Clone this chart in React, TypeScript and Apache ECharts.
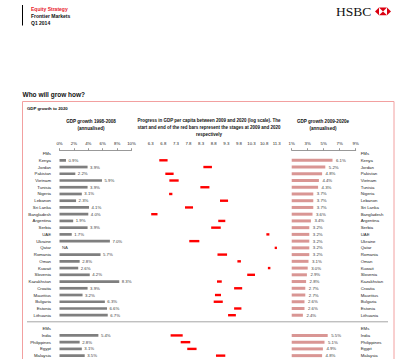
import React, { useEffect, useRef } from "react";
import * as echarts from "echarts";

// ---- Data ----
const fmCountries = [
  "Kenya", "Jordan", "Pakistan", "Vietnam", "Tunisia", "Nigeria", "Lebanon", "Sri Lanka",
  "Bangladesh", "Argentina", "Serbia", "UAE", "Ukraine", "Qatar", "Romania", "Oman",
  "Kuwait", "Slovenia", "Kazakhstan", "Croatia", "Mauritius", "Bulgaria", "Estonia", "Lithuania",
];
const emCountries = ["India", "Philippines", "Egypt", "Malaysia"];

// GDP growth 1998-2008 (annualised, %); null = NA
const fmGrowth9808: (number | null)[] = [
  0.9, 3.9, 2.2, 5.9, 3.9, 3.1, 2.3, 4.1, 4.0, 1.9, 3.9, 1.7, 7.0, null, 5.7, 2.8,
  2.6, 4.2, 8.3, 3.9, 3.2, 6.3, 6.6, 6.7,
];
const emGrowth9808: (number | null)[] = [5.4, 2.8, 3.1, 3.5];

// Log GDP per capita stage, 2009 and 2020
const fmStage2009 = [
  6.64, 8.39, 6.88, 7.04, 8.27, 7.03, 9.05, 7.66, 6.32, 8.98, 8.70, 10.89, 7.83, 11.22, 8.95, 9.74,
  10.95, 10.13, 8.93, 9.61, 8.85, 8.80, 9.61, 9.37,
];
const fmStage2020 = [
  6.97, 8.73, 7.21, 7.41, 8.63, 7.16, 9.37, 7.98, 6.57, 9.26, 9.08, 11.01, 8.23, 11.31, 9.33, 9.88,
  11.05, 10.44, 9.12, 9.93, 9.09, 9.16, 9.90, 9.68,
];
const emStage2009 = [7.09, 7.49, 7.75, 8.89];
const emStage2020 = [7.57, 7.87, 8.12, 9.26];

// GDP growth 2009-2020e (annualised, %)
const fmGrowth0920 = [
  6.1, 5.2, 4.8, 4.4, 4.3, 3.7, 3.7, 3.7, 3.6, 3.4, 3.2, 3.2, 3.2, 3.2, 3.2, 3.1,
  3.0, 2.9, 2.8, 2.7, 2.7, 2.6, 2.6, 2.4,
];
const emGrowth0920 = [5.5, 5.1, 4.9, 4.8];

const groupLabels = ["FMs", "EMs"];

const leftTicks = { min: 0, max: 10, interval: 2 };
const midTicks = { min: 6.3, max: 11.3, interval: 0.5 };
const rightTicks = { min: 1, max: 9, interval: 2 };

// ---- Build rows ----
const rowLabels = [groupLabels[0], ...fmCountries, "", groupLabels[1], ...emCountries];
const fmOffset = 1;
const emOffset = 1 + fmCountries.length + 2;

function rowsOf<T>(fm: T[], em: T[]): (T | "-")[] {
  return ["-", ...fm, "-", "-", ...em];
}

const FONT = "Liberation Sans";
const TXT = "#1a1a1a";
const VAL = "#3a3a3a";

export default function App() {
  const ref = useRef<HTMLDivElement>(null);
  useEffect(() => {
    if (!ref.current) return;
    const chart = echarts.init(ref.current, undefined, { renderer: "svg" });

    const leftData = rowsOf(fmGrowth9808, emGrowth9808).map((v) => {
      if (v === "-") return "-";
      if (v === null) return { value: 0, label: { formatter: "NA" } };
      return v;
    });
    const rightData = rowsOf(fmGrowth0920, emGrowth0920);
    const midData: number[][] = [];
    fmStage2009.forEach((s, i) => midData.push([s, fmStage2020[i], fmOffset + i]));
    emStage2009.forEach((s, i) => midData.push([s, emStage2020[i], emOffset + i]));

    const gridTop = 150.2;
    const gridH = 209;

    const catAxis = (gridIndex: number, show: boolean, pos: "left" | "right", align: string, margin: number) => ({
      type: "category" as const,
      gridIndex,
      data: rowLabels,
      inverse: true,
      position: pos,
      axisLine: { show: false },
      axisTick: { show: false },
      axisLabel: {
        show,
        fontSize: 4.3,
        fontFamily: FONT,
        color: TXT,
        margin,
        align,
        interval: 0,
      },
    });

    const pctFmt = (v: number) => v + "%";

    chart.setOption({
      animation: false,
      textStyle: { fontFamily: FONT },
      grid: [
        { left: 59.5, width: 72, top: gridTop, height: gridH },
        { left: 150.7, width: 126, top: gridTop, height: gridH },
        { left: 291.7, width: 64, top: gridTop, height: gridH },
      ],
      xAxis: [
        {
          type: "value",
          gridIndex: 0,
          position: "top",
          ...leftTicks,
          axisLine: { show: true, lineStyle: { color: "#7f7f7f", width: 0.8 } },
          axisTick: { show: true, length: 2, lineStyle: { color: "#7f7f7f", width: 0.8 } },
          axisLabel: { fontSize: 4.3, fontFamily: FONT, color: TXT, margin: 4.5, formatter: pctFmt },
          splitLine: { show: false },
        },
        {
          type: "value",
          gridIndex: 1,
          position: "top",
          ...midTicks,
          axisLine: { show: false },
          axisTick: { show: false },
          axisLabel: {
            fontSize: 4.3,
            fontFamily: FONT,
            color: TXT,
            margin: 4.5,
            formatter: (v: number) => v.toFixed(1),
          },
          splitLine: { show: false },
        },
        {
          type: "value",
          gridIndex: 2,
          position: "top",
          ...rightTicks,
          axisLine: { show: true, lineStyle: { color: "#7f7f7f", width: 0.8 } },
          axisTick: { show: true, length: 2, lineStyle: { color: "#7f7f7f", width: 0.8 } },
          axisLabel: { fontSize: 4.3, fontFamily: FONT, color: TXT, margin: 4.5, formatter: pctFmt },
          splitLine: { show: false },
        },
      ],
      yAxis: [
        catAxis(0, true, "left", "right", 8.5),
        catAxis(1, false, "left", "right", 8),
        catAxis(2, true, "right", "left", 5),
      ],
      series: [
        {
          type: "bar",
          xAxisIndex: 0,
          yAxisIndex: 0,
          data: leftData,
          barWidth: 2.7,
          itemStyle: { color: "#7f7f7f" },
          label: {
            show: true,
            position: "right",
            distance: 2.5,
            fontSize: 4.3,
            fontFamily: FONT,
            color: VAL,
            formatter: (p: any) => Number(p.value).toFixed(1) + "%",
          },
        },
        {
          type: "custom",
          xAxisIndex: 1,
          yAxisIndex: 1,
          data: midData,
          encode: { x: [0, 1], y: 2 },
          renderItem: (params: any, api: any) => {
            const s = api.coord([api.value(0), api.value(2)]);
            const e = api.coord([api.value(1), api.value(2)]);
            return {
              type: "rect",
              shape: { x: s[0], y: s[1] - 1.2, width: Math.max(e[0] - s[0], 1.2), height: 2.4 },
              style: { fill: "#ff0000" },
            };
          },
        },
        {
          type: "bar",
          xAxisIndex: 2,
          yAxisIndex: 2,
          data: rightData,
          barWidth: 3,
          itemStyle: { color: "#d99694" },
          label: {
            show: true,
            position: "right",
            distance: 3.5,
            fontSize: 4.3,
            fontFamily: FONT,
            color: VAL,
            formatter: (p: any) => Number(p.value).toFixed(1) + "%",
          },
        },
      ],
      graphic: [
        // header
        { type: "line", shape: { x1: 22.5, y1: 5, x2: 22.5, y2: 25.5 }, style: { stroke: "#000", lineWidth: 1 } },
        { type: "text", x: 31, y: 9, style: { text: "Equity Strategy", fill: "#e8202a", fontSize: 5, fontWeight: "bold", fontFamily: FONT, verticalAlign: "middle" } },
        { type: "text", x: 31, y: 15.7, style: { text: "Frontier Markets", fill: "#111", fontSize: 5, fontWeight: "bold", fontFamily: FONT, verticalAlign: "middle" } },
        { type: "text", x: 31, y: 22.6, style: { text: "Q1 2014", fill: "#111", fontSize: 5, fontWeight: "bold", fontFamily: FONT, verticalAlign: "middle" } },
        // HSBC logo
        { type: "text", x: 336, y: 11.6, style: { text: "HSBC", fill: "#111", fontSize: 13.5, fontFamily: "Liberation Serif", verticalAlign: "middle" } },
        {
          type: "group",
          x: 383,
          y: 11.4,
          children: [
            { type: "polygon", shape: { points: [[-8, 0], [-4, -3.8], [-4, 3.8]] }, style: { fill: "#db0011" } },
            { type: "polygon", shape: { points: [[8, 0], [4, -3.8], [4, 3.8]] }, style: { fill: "#db0011" } },
            { type: "polygon", shape: { points: [[-4, -3.8], [4, -3.8], [0, 0]] }, style: { fill: "#db0011" } },
            { type: "polygon", shape: { points: [[-4, 3.8], [4, 3.8], [0, 0]] }, style: { fill: "#db0011" } },
          ],
        },
        // section title
        { type: "text", x: 22.5, y: 94.8, style: { text: "Who will grow how?", fill: "#111", fontSize: 6.5, fontWeight: "bold", fontFamily: FONT, verticalAlign: "middle" } },
        // box
        { type: "rect", shape: { x: 22.5, y: 101.5, width: 371.5, height: 300 }, style: { fill: "none", stroke: "#f2a0a0", lineWidth: 1 } },
        { type: "text", x: 27, y: 108, style: { text: "GDP growth to 2020", fill: "#111", fontSize: 4.3, fontWeight: "bold", fontFamily: FONT, verticalAlign: "middle" } },
        // column headers
        { type: "text", x: 91, y: 117.5, style: { text: "GDP growth 1998-2008\n(annualised)", fill: "#111", fontSize: 4.6, lineHeight: 7.2, fontWeight: "bold", fontFamily: FONT, align: "center", verticalAlign: "top" }, },
        { type: "text", x: 209, y: 117.5, style: { text: "Progress in GDP per capita between 2009 and 2020 (log scale). The\nstart and end of the red bars represent the stages at 2009 and 2020\nrespectively", fill: "#111", fontSize: 4.5, lineHeight: 6.6, fontWeight: "bold", fontFamily: FONT, align: "center", verticalAlign: "top" } },
        { type: "text", x: 323, y: 117.5, style: { text: "GDP growth 2009-2020e\n(annualised)", fill: "#111", fontSize: 4.6, lineHeight: 7.2, fontWeight: "bold", fontFamily: FONT, align: "center", verticalAlign: "top" } },
        // divider between FMs and EMs
        { type: "line", shape: { x1: 27, y1: 321.8, x2: 388, y2: 321.8 }, style: { stroke: "#a6a6a6", lineWidth: 1 } },
      ],
    });
    return () => chart.dispose();
  }, []);
  return (
    <div
      ref={ref}
      style={{ position: "fixed", left: 0, top: 0, width: 400, height: 359, background: "#fff" }}
    />
  );
}
